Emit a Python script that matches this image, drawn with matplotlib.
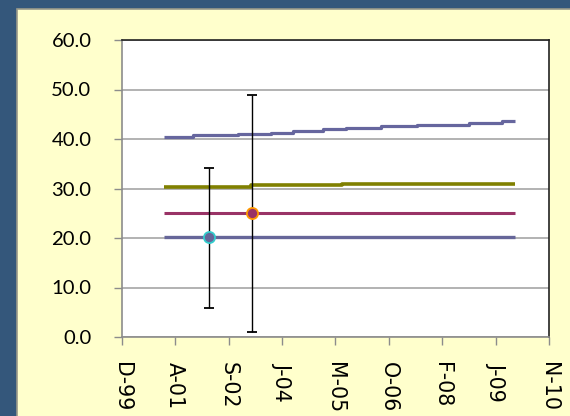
import numpy as np
import matplotlib
matplotlib.use("Agg")
from matplotlib import pyplot as plt
from matplotlib.patches import Rectangle

# series
purple_dates = ['2001-01-01', '2001-10-01', '2002-12-01', '2003-10-01', '2004-05-01', '2005-02-01',
                '2005-09-01', '2006-08-01', '2007-07-01', '2008-11-01', '2009-09-01', '2010-01-01']
purple_vals = [40.5, 40.8, 41.0, 41.3, 41.7, 42.0, 42.3, 42.6, 42.9, 43.2, 43.6, 43.6]

olive_dates = ['2001-01-01', '2003-04-01', '2005-08-01', '2010-01-01']
olive_vals = [30.4, 30.7, 31.0, 31.0]

maroon_dates = ['2001-01-01', '2010-01-01']
maroon_vals = [25.0, 25.0]

blue_dates = ['2001-01-01', '2010-01-01']
blue_vals = [20.3, 20.3]

# points with error bars
pt_dates = ['2002-03-05', '2003-04-05']
pt_vals = [20.3, 25.0]
pt_err_lo = [14.4, 24.0]
pt_err_hi = [13.8, 23.9]

tick_labels = ['D-99', 'A-01', 'S-02', 'J-04', 'M-05', 'O-06', 'F-08', 'J-09', 'N-10']
x_start = '1999-12-06'
tick_step_days = 500

plt.rcParams['font.family'] = ['Lato', 'DejaVu Sans']

fig = plt.figure(figsize=(5.7, 4.16), dpi=100)
fig.patch.set_facecolor('#34577B')
fig.add_artist(Rectangle((17 / 570, -0.01), 1, 1.01 - 9 / 416, transform=fig.transFigure,
                         facecolor='#FFFFCC', edgecolor='#9A9A8A', lw=1.2, zorder=-5))

ax = fig.add_axes([121.7 / 570, (416 - 337) / 416, (549 - 121.7) / 570, (337 - 40) / 416])
ax.set_facecolor('white')
ax.set_zorder(2)

d = lambda lst: np.array(lst, dtype='datetime64[D]')

ax.plot(d(purple_dates), purple_vals, drawstyle='steps-post', color='#66669E', lw=2.3, solid_capstyle='butt')
ax.plot(d(olive_dates), olive_vals, drawstyle='steps-post', color='#808000', lw=2.6, solid_capstyle='butt')
ax.plot(d(maroon_dates), maroon_vals, color='#993366', lw=2.2, solid_capstyle='butt')
ax.plot(d(blue_dates), blue_vals, color='#666699', lw=2.4, solid_capstyle='butt')

ax.errorbar(d(pt_dates[:1]), pt_vals[:1], yerr=[pt_err_lo[:1], pt_err_hi[:1]], fmt='o',
            ms=8, mfc='#666699', mec='#33CCCC', mew=1.3, ecolor='black', elinewidth=1.0,
            capsize=3.5, capthick=1.2, zorder=5)
ax.errorbar(d(pt_dates[1:]), pt_vals[1:], yerr=[pt_err_lo[1:], pt_err_hi[1:]], fmt='o',
            ms=8, mfc='#993366', mec='#FF9900', mew=1.3, ecolor='black', elinewidth=1.0,
            capsize=3.5, capthick=1.2, zorder=5)

x0 = np.datetime64(x_start)
ticks = x0 + np.arange(len(tick_labels)) * np.timedelta64(tick_step_days, 'D')
ax.set_xlim(ticks[0], ticks[-1])
ax.set_xticks(ticks)
ax.set_xticklabels(tick_labels, rotation=270, fontsize=14.8, family='DejaVu Sans')

ax.set_ylim(0, 60)
ax.set_yticks(np.arange(0, 61, 10))
ax.set_yticklabels(['%.1f' % v for v in np.arange(0, 61, 10)], fontsize=14.6)

ax.grid(axis='y', color='#A6A6A6', lw=1.2)
ax.set_axisbelow(True)
ax.tick_params(axis='both', length=5.8, color='#8C8C8C', width=1, direction='out')
ax.tick_params(axis='y', pad=16)
ax.tick_params(axis='x', pad=12)

ax.spines['left'].set_color('#8C8C8C')
ax.spines['bottom'].set_color('#8C8C8C')
ax.spines['top'].set_color('#222222')
ax.spines['right'].set_color('#222222')
for s in ax.spines.values():
    s.set_linewidth(1.2)

fig.savefig('out.png', dpi=100, facecolor=fig.get_facecolor())
